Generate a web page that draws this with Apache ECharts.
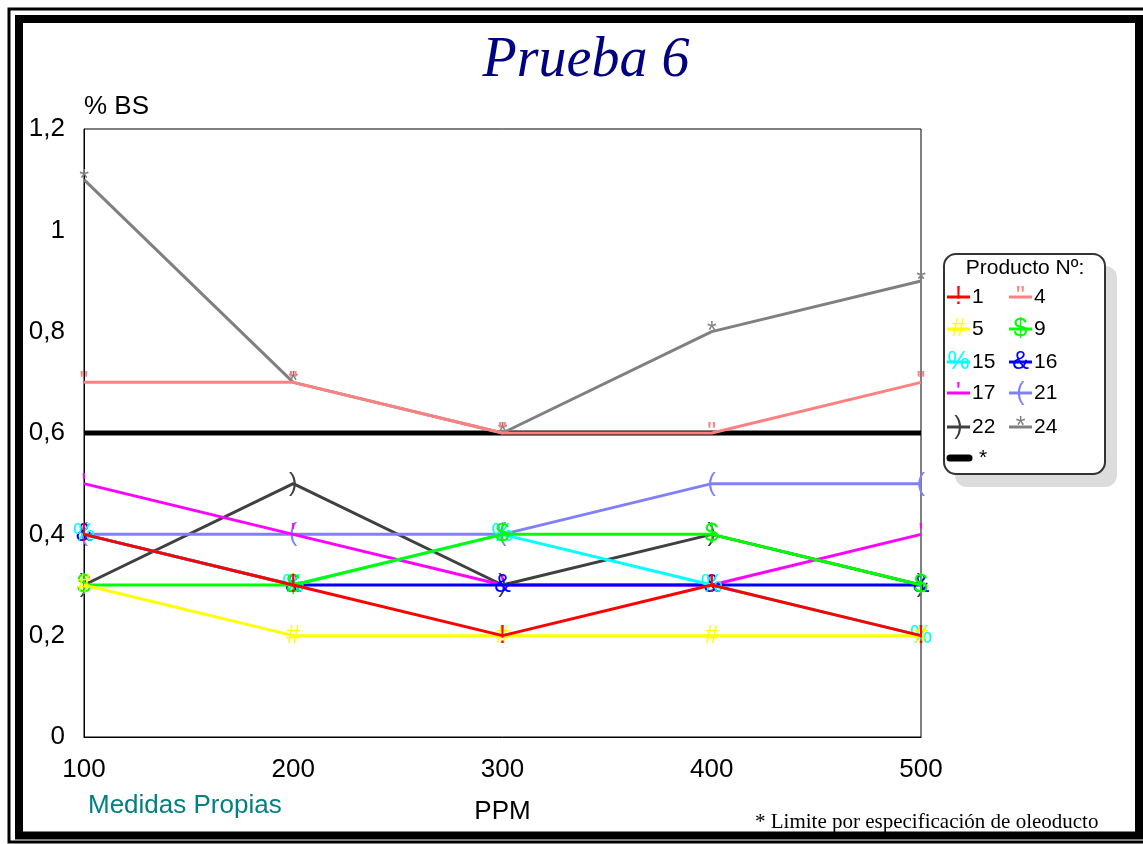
<!DOCTYPE html>
<html>
<head>
<meta charset="utf-8">
<title>Prueba 6</title>
<script src="https://cdn.jsdelivr.net/npm/echarts@6/dist/echarts.min.js"></script>
<style>
  html, body { margin: 0; padding: 0; background: #ffffff; }
  #chart { width: 1143px; height: 844px; }
</style>
</head>
<body>
<div id="chart"></div>
<script>
// Concentration steps (ppm) and % BS tick labels
const ppm = ['100', '200', '300', '400', '500'];
const yTickLabels = ['0', '0,2', '0,4', '0,6', '0,8', '1', '1,2'];

// Products: legend name, marker glyph, colour
const productNames = ['1', '4', '5', '9', '15', '16', '17', '21', '22', '24'];
const productGlyphs = ['!', '"', '#', '$', '%', '&', "'", '(', ')', '*'];
const productColors = ['#ff0000', '#ff8080', '#ffff00', '#00ff00', '#00ffff',
                       '#0000ff', '#ff00ff', '#8080ff', '#404040', '#808080'];

// % BS measured for each product at 100..500 ppm
const prod1  = [0.4, 0.3, 0.2, 0.3, 0.2];
const prod4  = [0.7, 0.7, 0.6, 0.6, 0.7];
const prod5  = [0.3, 0.2, 0.2, 0.2, 0.2];
const prod9  = [0.3, 0.3, 0.4, 0.4, 0.3];
const prod15 = [0.4, 0.3, 0.4, 0.3, 0.2];
const prod16 = [0.4, 0.3, 0.3, 0.3, 0.3];
const prod17 = [0.5, 0.4, 0.3, 0.3, 0.4];
const prod21 = [0.4, 0.4, 0.4, 0.5, 0.5];
const prod22 = [0.3, 0.5, 0.3, 0.4, 0.3];
const prod24 = [1.1, 0.7, 0.6, 0.8, 0.9];
// Pipeline specification limit
const limitName = '*';
const limitValues = [0.6, 0.6, 0.6, 0.6, 0.6];

const productValues = [prod1, prod4, prod5, prod9, prod15, prod16, prod17, prod21, prod22, prod24];

const SANS = 'Liberation Sans, Arial, sans-serif';
const SERIF = 'Liberation Serif, Times New Roman, serif';

const chart = echarts.init(document.getElementById('chart'), null, { renderer: 'canvas' });

// Earlier products are painted above later ones
const series = productNames.map((name, i) => ({
  name: name,
  type: 'line',
  data: productValues[i],
  z: 30 - i,
  symbol: 'circle',
  symbolSize: 14,
  itemStyle: { color: 'rgba(0,0,0,0)', borderWidth: 0 },
  lineStyle: { color: productColors[i], width: 3 },
  label: {
    show: true,
    position: 'inside',
    formatter: productGlyphs[i],
    color: productColors[i],
    fontFamily: SANS,
    fontSize: 25,
    align: 'center',
    verticalAlign: 'middle'
  },
  emphasis: { disabled: true },
  animation: false
}));
series.push({
  name: limitName,
  type: 'line',
  data: limitValues,
  z: 5,
  symbol: 'none',
  lineStyle: { color: '#000000', width: 5 },
  emphasis: { disabled: true },
  animation: false
});

// Legend box drawn as graphic elements, two columns
const legendCols = [947, 1009];
const legendRows = [297, 329, 362, 393, 427, 458];
const legendEls = [];
productNames.forEach((name, i) => {
  const x = legendCols[i % 2];
  const y = legendRows[Math.floor(i / 2)];
  legendEls.push({
    type: 'line', shape: { x1: x, y1: y, x2: x + 23, y2: y },
    style: { stroke: productColors[i], lineWidth: 3 }
  });
  legendEls.push({
    type: 'text', x: x + 11.5, y: y,
    style: { text: productGlyphs[i], fill: productColors[i], fontFamily: SANS, fontSize: 25,
             align: 'center', verticalAlign: 'middle', textAlign: 'center', textVerticalAlign: 'middle' }
  });
  legendEls.push({
    type: 'text', x: x + 25, y: y,
    style: { text: name, fill: '#000000', fontFamily: SANS, fontSize: 21,
             align: 'left', verticalAlign: 'middle', textAlign: 'left', textVerticalAlign: 'middle' }
  });
});
{
  const y = legendRows[5];
  legendEls.push({
    type: 'line', shape: { x1: 950, y1: y, x2: 969, y2: y },
    style: { stroke: '#000000', lineWidth: 7, lineCap: 'round' }
  });
  legendEls.push({
    type: 'text', x: 979, y: y,
    style: { text: limitName, fill: '#000000', fontFamily: SANS, fontSize: 21,
             align: 'left', verticalAlign: 'middle', textAlign: 'left', textVerticalAlign: 'middle' }
  });
}

const option = {
  animation: false,
  backgroundColor: '#ffffff',
  grid: {
    left: 84, top: 129, width: 837, height: 608,
    show: true, borderColor: '#000000', borderWidth: 1, backgroundColor: '#ffffff'
  },
  xAxis: {
    type: 'category',
    data: ppm,
    boundaryGap: false,
    name: 'PPM',
    nameLocation: 'middle',
    nameGap: 75,
    nameTextStyle: { fontFamily: SANS, fontSize: 26, color: '#000000', verticalAlign: 'middle' },
    axisLine: { show: true, lineStyle: { color: '#000000', width: 1 } },
    axisTick: { show: false },
    axisLabel: { fontFamily: SANS, fontSize: 26, color: '#000000', margin: 20 },
    splitLine: { show: false }
  },
  yAxis: {
    type: 'value',
    min: 0, max: 1.2, interval: 0.2,
    name: '% BS',
    nameLocation: 'end',
    nameGap: 22,
    nameTextStyle: { fontFamily: SANS, fontSize: 26, color: '#000000', align: 'left', verticalAlign: 'middle' },
    axisLine: { show: true, lineStyle: { color: '#000000', width: 1 } },
    axisTick: { show: false },
    axisLabel: {
      fontFamily: SANS, fontSize: 26, color: '#000000', margin: 19,
      formatter: v => yTickLabels[Math.round(v / 0.2)]
    },
    splitLine: { show: false }
  },
  series: series,
  graphic: [
    // double frame
    { type: 'rect', z: 100, shape: { x: 9, y: 9, width: 1150, height: 833 },
      style: { fill: 'none', stroke: '#000000', lineWidth: 3 } },
    { type: 'rect', z: 100, shape: { x: 19, y: 19, width: 1120, height: 816.5 },
      style: { fill: 'none', stroke: '#000000', lineWidth: 8 } },
    // title
    { type: 'text', x: 586, y: 61, z: 100,
      style: { text: 'Prueba 6', fill: '#000080', fontFamily: SERIF, fontStyle: 'italic', fontSize: 56,
               align: 'center', verticalAlign: 'middle', textAlign: 'center', textVerticalAlign: 'middle' } },
    // source note
    { type: 'text', x: 88, y: 806, z: 100,
      style: { text: 'Medidas Propias', fill: '#008080', fontFamily: SANS, fontSize: 26,
               align: 'left', verticalAlign: 'middle', textAlign: 'left', textVerticalAlign: 'middle' } },
    // footnote
    { type: 'text', x: 755, y: 822, z: 100,
      style: { text: '* Limite por especificación de oleoducto', fill: '#000000', fontFamily: SERIF, fontSize: 21,
               align: 'left', verticalAlign: 'middle', textAlign: 'left', textVerticalAlign: 'middle' } },
    // legend shadow and box
    { type: 'rect', z: 100, shape: { x: 955, y: 266, width: 162, height: 221, r: 12 },
      style: { fill: '#dcdcdc' } },
    { type: 'rect', z: 101, shape: { x: 944, y: 254, width: 161, height: 220, r: 12 },
      style: { fill: '#ffffff', stroke: '#333333', lineWidth: 2 } },
    { type: 'text', x: 1025, y: 268, z: 102,
      style: { text: 'Producto Nº:', fill: '#000000', fontFamily: SANS, fontSize: 21,
               align: 'center', verticalAlign: 'middle', textAlign: 'center', textVerticalAlign: 'middle' } },
    { type: 'group', z: 102, children: legendEls.map(e => Object.assign({ z: 102 }, e)) }
  ]
};

chart.setOption(option);
</script>
</body>
</html>
